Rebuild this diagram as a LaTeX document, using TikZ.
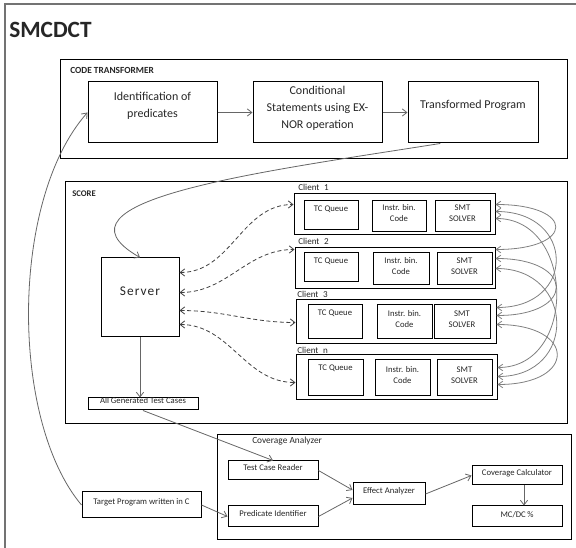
\documentclass[tikz,border=0pt]{standalone}
\usepackage{fontspec}
\setmainfont{Carlito}
\usetikzlibrary{arrows.meta,fit,calc}
\begin{document}
\begin{tikzpicture}[x=0.75pt,y=-0.75pt,
  bx/.style={draw=black,line width=0.75pt,inner sep=0pt,align=center,text=black!85},
  frame/.style={draw=black,line width=0.75pt,inner sep=0pt},
  big/.style={font=\fontsize{9}{12.5}\selectfont},
  sm/.style={font=\fontsize{6.5}{8.25}\selectfont},
  lab/.style={font=\bfseries\fontsize{6.5}{8}\selectfont,anchor=west,inner sep=0pt,text=black!85},
  clab/.style={font=\fontsize{6.8}{8}\selectfont,anchor=west,inner sep=0pt,text=black!85},
  inlab/.style={inner sep=0pt,align=center,text=black!85},
  tcq/.style={sm,anchor=north,inner sep=0pt,yshift=-3.5pt,text=black!85},
  arr/.style={draw=black!60,line width=0.6pt,-{Straight Barb[length=3.5pt,width=5.5pt]}},
  darr/.style={draw=black!75,line width=0.6pt,densely dashed,{Straight Barb[length=3.5pt,width=5.5pt]}-{Straight Barb[length=3.5pt,width=5.5pt]}},
  carr/.style={draw=black!50,line width=0.6pt,{Straight Barb[length=3.5pt,width=5pt]}-{Straight Barb[length=3.5pt,width=5pt]}},
]
\useasboundingbox (0,0) rectangle (576,548);
% outer frame
\node[draw=black!55,line width=1pt,inner sep=0pt,fit={(5,4)(582,556)}] (outer) {};
\node[anchor=west,inner sep=0pt,font=\bfseries\fontsize{17.5}{20}\selectfont,text=black!85] (title) at (9,30) {SMCDCT};

% code transformer
\node[frame,fit={(60,60)(567,159)}] (ct) {};
\node[lab,font=\bfseries\fontsize{7}{8}\selectfont] (ctl) at (70,70) {CODE TRANSFORMER};
\node[bx,fit={(88,82)(217,143)},label={[inlab,big,name=identt,yshift=5pt]center:Identification of\\predicates}] (ident) {};
\node[bx,big,fit={(253,82)(382,143)}] (cond) {Conditional\\Statements using EX-\\NOR operation};
\node[bx,fit={(408,82)(538,143)},label={[inlab,big,name=transt,yshift=5.5pt]center:Transformed Program}] (trans) {};
\draw[arr] (ident.east) -- (cond.west);
\draw[arr] (cond.east) -- (trans.west);

% score
\node[frame,fit={(65,182)(567,424)}] (score) {};
\node[lab] (scorel) at (72,194) {SCORE};
\node[bx,fit={(101,258)(179,337)},label={[inlab,font=\fontsize{10}{12}\selectfont\addfontfeature{LetterSpace=8},name=servert,yshift=4.8pt]center:Server}] (server) {};
\node[bx,sm,fit={(88,398)(198,410)}] (allgen) {All Generated Test Cases};

% clients
\node[bx,fit={(294,194)(495,235)}] (c1) {};
\node[clab] (c1l) at (298,187) {Client\enspace 1};
\node[bx,fit={(304,201)(358,230)},label={[tcq,name=tc1t]north:TC Queue}] (tc1) {};
\node[bx,sm,fit={(372,201)(426,232)}] (ib1) {Instr. bin.\\Code};
\node[bx,sm,fit={(435,201)(490,232)}] (smt1) {SMT\\SOLVER};

\node[bx,fit={(295,248)(495,289)}] (c2) {};
\node[clab] (c2l) at (298,241) {Client\enspace 2};
\node[bx,fit={(304,253)(358,282)},label={[tcq,name=tc2t]north:TC Queue}] (tc2) {};
\node[bx,sm,fit={(373,253)(429,285)}] (ib2) {Instr. bin.\\Code};
\node[bx,sm,fit={(437,253)(492,285)}] (smt2) {SMT\\SOLVER};

\node[bx,fit={(296,300)(496,344)}] (c3) {};
\node[clab] (c3l) at (297,294) {Client\enspace 3};
\node[bx,fit={(308,305)(362,339)},label={[tcq,name=tc3t]north:TC Queue}] (tc3) {};
\node[bx,sm,fit={(377,305)(432,339)}] (ib3) {Instr. bin.\\Code};
\node[bx,sm,fit={(434,305)(490,339)}] (smt3) {SMT\\SOLVER};

\node[bx,fit={(296,355)(497,400)}] (cn) {};
\node[clab] (cnl) at (297,350) {Client\enspace n};
\node[bx,fit={(308,360)(363,396)},label={[tcq,name=tcnt]north:TC Queue}] (tcn) {};
\node[bx,sm,fit={(375,360)(430,396)}] (ibn) {Instr. bin.\\Code};
\node[bx,sm,fit={(437,360)(492,396)}] (smtn) {SMT\\SOLVER};

% server <-> clients
\draw[darr] ($(server.north east)+(0,15)$) to[out=0,in=180] ($(c1.north west)+(0,11)$);
\draw[darr] ($(server.north east)+(0,35)$) to[out=0,in=180] ($(c2.north west)+(0,2)$);
\draw[darr] ($(server.north east)+(0,53)$) to[out=0,in=180] ($(c3.north west)+(0,23)$);
\draw[darr] ($(server.north east)+(0,67)$) to[out=0,in=180] ($(cn.north west)+(0,28)$);

% client <-> client
\coordinate (a1) at ($(c1.north east)+(0,11)$);
\coordinate (a2) at ($(c1.north east)+(0,18)$);
\coordinate (a3) at ($(c1.north east)+(0,25)$);
\coordinate (b1) at ($(c2.north east)+(0,2)$);
\coordinate (b2) at ($(c2.north east)+(0,11)$);
\coordinate (b3) at ($(c2.north east)+(0,21)$);
\coordinate (d1) at ($(c3.north east)+(0,8)$);
\coordinate (d2) at ($(c3.north east)+(0,16)$);
\coordinate (d3) at ($(c3.north east)+(0,25)$);
\coordinate (e1) at ($(cn.north east)+(0,13)$);
\coordinate (e2) at ($(cn.north east)+(0,22)$);
\coordinate (e3) at ($(cn.north east)+(0,30)$);
\draw[carr] (a1) to[out=0,in=0,out distance=60pt,in distance=60pt] (b1);
\draw[carr] (a2) to[out=0,in=0,out distance=60pt,in distance=60pt] (d1);
\draw[carr] (a3) to[out=0,in=0,out distance=60pt,in distance=60pt] (e1);
\draw[carr] (b2) to[out=0,in=0,out distance=60pt,in distance=60pt] (d2);
\draw[carr] (b3) to[out=0,in=0,out distance=60pt,in distance=60pt] (e2);
\draw[carr] (d3) to[out=0,in=0,out distance=60pt,in distance=60pt] (e3);

% server flow
\draw[arr] ($(trans.south west)!0.25!(trans.south east)$) .. controls (260,172) and (40,200) .. (server.north);
\draw[arr] (server.south) -- (server.south |- allgen.north);

% coverage analyzer
\node[frame,fit={(217,435)(571,540)}] (cov) {};
\node[clab,font=\fontsize{7}{8}\selectfont] (covl) at (252,441) {Coverage Analyzer};
\node[bx,sm,fit={(228,461)(318,480)}] (tcr) {Test Case Reader};
\node[bx,sm,fit={(228,506)(318,527)}] (pi) {Predicate Identifier};
\node[bx,sm,fit={(353,483)(425,505)}] (ea) {Effect Analyzer};
\node[bx,fit={(472,466)(562,485)},label={[inlab,sm,name=cct,yshift=1.5pt]center:Coverage Calculator}] (cc) {};
\node[bx,fit={(472,506)(562,527)},label={[inlab,sm,name=mcdct,yshift=1.5pt]center:MC/DC\,\%}] (mcdc) {};
\node[bx,fit={(82,492)(201,518)},label={[inlab,sm,name=targett,yshift=2pt]center:Target Program written in C}] (target) {};

\draw[arr] (allgen.south) -- (tcr.north);
\draw[arr] (target.east) -- (pi.west);
\draw[arr] (tcr.east) -- ($(ea.west)+(0,-4)$);
\draw[arr] (pi.east) -- ($(ea.west)+(0,4)$);
\draw[arr] (ea.east) -- (cc.west);
\draw[arr] ($(cc.south)+(7,0)$) -- ($(mcdc.north)+(7,0)$);
\draw[arr] (target.west) .. controls (10,420) and (10,200) .. (ident.west);
\end{tikzpicture}
\end{document}
